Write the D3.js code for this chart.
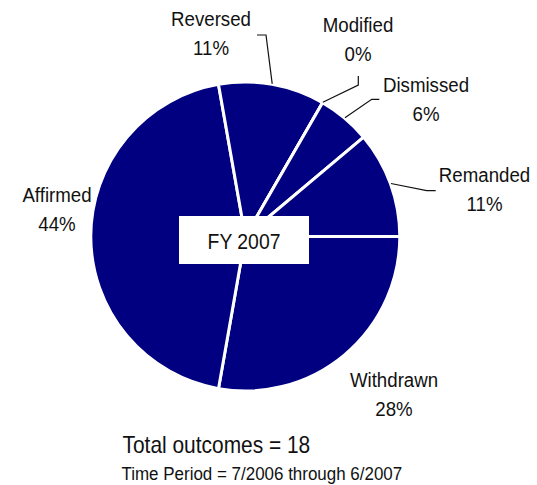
<!DOCTYPE html>
<html>
<head>
<meta charset="utf-8">
<script src="https://cdn.jsdelivr.net/npm/d3@7"></script>
<style>
  html, body { margin: 0; padding: 0; background: #fff; }
  svg { display: block; }
  text { font-family: "Liberation Sans", Arial, sans-serif; fill: #111; }
</style>
</head>
<body>
<svg id="chart" width="537" height="485"></svg>
<script>
// Case outcomes, FY 2007 (counts; total = 18)
const categories = ["Withdrawn", "Affirmed", "Reversed", "Modified", "Dismissed", "Remanded"];
const counts     = [5, 8, 2, 0, 1, 2];
const percentLabels = ["28%", "44%", "11%", "0%", "6%", "11%"];
const centerTitle = "FY 2007";
const totalText = "Total outcomes = 18";
const periodText = "Time Period = 7/2006 through 6/2007";

const svg = d3.select("#chart");
const cx = 245.3, cy = 236.5, R = 154.5;
const navy = "#000080";

const data = categories.map((c, i) => ({ name: c, value: counts[i], pct: percentLabels[i] }));

// Pie starts at 3 o'clock and runs clockwise
const pie = d3.pie()
  .value(d => d.value)
  .sort(null)
  .startAngle(Math.PI / 2)
  .endAngle(Math.PI / 2 + 2 * Math.PI);

const arcs = pie(data);
const arc = d3.arc().innerRadius(0).outerRadius(R);
const edge = d3.arc().innerRadius(R + 0.5).outerRadius(R + 0.5);

const g = svg.append("g").attr("transform", `translate(${cx},${cy})`);

g.selectAll("path.slice")
  .data(arcs)
  .join("path")
  .attr("class", "slice")
  .attr("d", arc)
  .attr("fill", navy)
  .attr("stroke", "#fff")
  .attr("stroke-width", 3)
  .attr("stroke-linejoin", "miter");

// Label placement (centre x of text block, baseline of first line), relative to page
const labelPos = {
  Withdrawn: { x: 394, y: 386.5, leader: null },
  Affirmed:  { x: 57,  y: 201.5, leader: null },
  Reversed:  { x: 211, y: 26,    leader: [[266, 35], [257, 35]] },
  Modified:  { x: 358, y: 31.5,  leader: [[358.3, 85], [358.3, 76]] },
  Dismissed: { x: 426, y: 91.5,  leader: [[371.7, 99.3], [379.3, 99.3]] },
  Remanded:  { x: 484.5, y: 181.5, leader: [[426.7, 190.7], [435.7, 190.7]] }
};

const line = d3.line();
arcs.forEach(a => {
  const p = labelPos[a.data.name];
  if (p.leader) {
    const c = edge.centroid(a);
    const pts = [[c[0] + cx, c[1] + cy], ...p.leader];
    svg.append("path")
      .attr("d", line(pts))
      .attr("fill", "none")
      .attr("stroke", "#111")
      .attr("stroke-width", 1.2);
  }
  const t = svg.append("g").attr("transform", `translate(${p.x},${p.y}) scale(0.89,1)`);
  t.append("text").attr("text-anchor", "middle").attr("font-size", 21).text(a.data.name);
  t.append("text").attr("text-anchor", "middle").attr("font-size", 21).attr("y", 29.5).text(a.data.pct);
});

// Centre title box
svg.append("rect")
  .attr("x", 179).attr("y", 216).attr("width", 130).attr("height", 48)
  .attr("fill", "#fff");
svg.append("g").attr("transform", `translate(244,249) scale(0.88,1)`)
  .append("text").attr("text-anchor", "middle").attr("font-size", 22).text(centerTitle);

// Footnotes
svg.append("g").attr("transform", `translate(122.5,453) scale(0.91,1)`)
  .append("text").attr("font-size", 23).text(totalText);
svg.append("g").attr("transform", `translate(121.5,480) scale(0.97,1)`)
  .append("text").attr("font-size", 17.5).text(periodText);
</script>
</body>
</html>
